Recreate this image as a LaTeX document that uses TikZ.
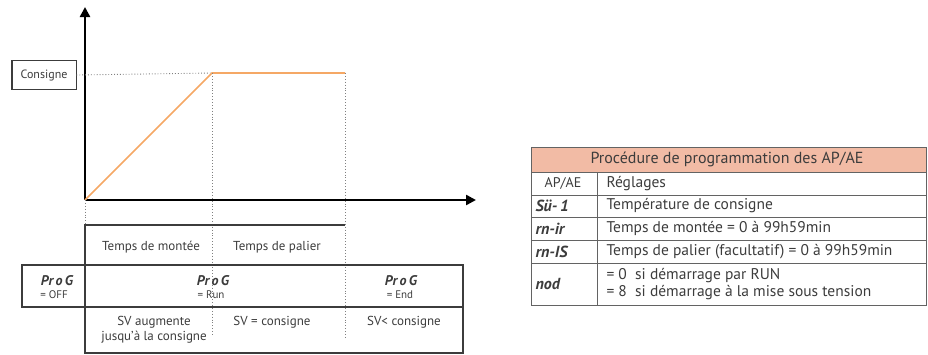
\documentclass[tikz,border=0pt]{standalone}
\usepackage{fontspec}
\setmainfont{PT Sans}
\usetikzlibrary{arrows.meta}

\definecolor{rampe}{HTML}{F5A865}
\definecolor{entete}{HTML}{F2BBA5}
\definecolor{trait}{HTML}{3C3C3C}

\tikzset{
  axe/.style={line width=2.4pt, -{Triangle[length=10pt,width=10pt]}},
  pointille/.style={dotted, line width=0.9pt, gray},
  cadre/.style={line width=1.5pt, trait},
  filet/.style={line width=0.9pt, trait!80},
  petit/.style={font=\fontsize{11}{12}\selectfont, text=trait},
  moyen/.style={font=\fontsize{13}{15}\selectfont, text=trait},
  tab/.style={font=\fontsize{15.5}{17}\selectfont, text=trait, anchor=west},
  code/.style={font=\fontsize{14}{15}\selectfont\itshape\bfseries, text=trait},
  codetab/.style={font=\fontsize{16}{17}\selectfont\itshape\bfseries, text=trait, anchor=west},
}

\begin{document}
\begin{tikzpicture}[x=1pt,y=-1pt]
  \useasboundingbox (0,0) rectangle (928,354);

  % axes
  \coordinate (O) at (85,200);
  \coordinate (Yhaut) at (85,7);
  \coordinate (Xfin) at (476,200);
  \draw[axe] (O) -- (Yhaut);
  \draw[axe] (O) -- (Xfin);

  \node[draw=trait, line width=0.8pt, minimum width=64pt, minimum height=29pt,
        inner sep=0pt, font=\fontsize{12}{13}\selectfont, text=trait] (cons) at (44,75) {Consigne};
  \draw[line width=2pt, trait] (cons.north west) -- (cons.south west);

  \coordinate (A) at (212,73);
  \coordinate (B) at (345,73);
  \draw[pointille] (cons.east) -- (A);
  \draw[rampe, line width=1.6pt] (O) -- (A) -- (B);

  % reperes verticaux
  \coordinate (Obas) at (85,225);
  \coordinate (Abas) at (212,335);
  \coordinate (Bbas) at (345,338);
  \draw[pointille] (O) -- (Obas);
  \draw[pointille] (A) -- (Abas);
  \draw[pointille] (B) -- (Bbas);

  % cadres
  \coordinate (Bhaut) at (345,225);
  \coordinate (Gbas) at (85,353);
  \coordinate (Dbas) at (463,353);
  \draw[cadre] (Bhaut) -- (Obas) -- (Gbas) -- (Dbas) -- (463,307);
  \draw[cadre] (22,265) rectangle (463,307);

  \node[moyen] (montee) at (151,247) {Temps de montée};
  \node[moyen] (palier) at (277,247) {Temps de palier};

  \node[code] (p1) at (57,281) {Pr\,o\,G};
  \node[petit] (p1v) at (54,295) {= OFF};
  \node[code] (p2) at (213,281) {Pr\,o\,G};
  \node[petit] (p2v) at (211,295) {= Run};
  \node[code] (p3) at (401,281) {Pr\,o\,G};
  \node[petit] (p3v) at (400,295) {= End};

  \node[moyen, align=center, inner sep=0pt] (sv1) at (154,330) {SV augmente\\jusqu'à la consigne};
  \node[moyen] (sv2) at (272,322) {SV = consigne};
  \node[moyen] (sv3) at (404,322) {SV< consigne};

  % tableau
  \fill[entete] (531,147) rectangle (926,172);
  \draw[filet] (531,147) rectangle (926,305);
  \foreach \y in {172,195,217,240,263}
    \draw[filet] (531,\y) -- (926,\y);
  \draw[filet] (597,172) -- (597,305);

  \node[font=\fontsize{16}{17}\selectfont, text=trait] (titre) at (727,159.5)
    {Procédure de programmation des AP/AE};
  \node[font=\fontsize{14}{15}\selectfont, text=trait] (c0) at (563,183.5) {AP/AE};
  \node[tab] (r0) at (603,183.5) {Réglages};
  \node[codetab] (c1) at (532,206) {S\"u-\,1};
  \node[tab] (r1) at (603,206) {Température de consigne};
  \node[codetab] (c2) at (532,228.5) {rn-ir};
  \node[tab] (r2) at (603,228.5) {Temps de montée = 0 à 99h59min};
  \node[codetab] (c3) at (532,251.5) {rn-IS};
  \node[tab] (r3) at (603,251.5) {Temps de palier (facultatif) = 0 à 99h59min};
  \node[codetab] (c4) at (532,284) {nod};
  \node[tab, align=left, inner sep=0pt, xshift=3.3pt] (r4) at (603,284)
    {= 0\ \ si démarrage par RUN\\= 8\ \ si démarrage à la mise sous tension};
\end{tikzpicture}
\end{document}
